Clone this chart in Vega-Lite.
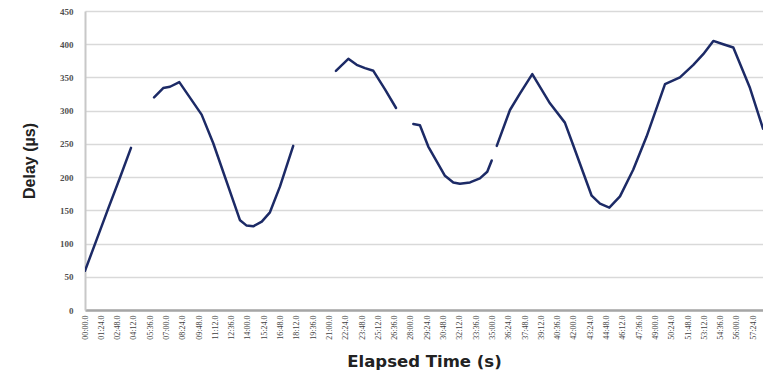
{
  "$schema": "https://vega.github.io/schema/vega-lite/v6.json",
  "autosize": "none",
  "width": 678,
  "height": 299,
  "padding": {"left": 85, "top": 11, "right": 0, "bottom": 65},
  "background": "white",
  "config": {"view": {"stroke": null}},
  "data": {"values": [
    {"t": 0, "delay": 59, "seg": 1},
    {"t": 60, "delay": 106, "seg": 1},
    {"t": 120, "delay": 153, "seg": 1},
    {"t": 180, "delay": 199, "seg": 1},
    {"t": 237, "delay": 244, "seg": 1},
    {"t": 356, "delay": 320, "seg": 2},
    {"t": 403, "delay": 334, "seg": 2},
    {"t": 438, "delay": 336, "seg": 2},
    {"t": 486, "delay": 343, "seg": 2},
    {"t": 601, "delay": 294, "seg": 2},
    {"t": 661, "delay": 251, "seg": 2},
    {"t": 799, "delay": 135, "seg": 2},
    {"t": 833, "delay": 127, "seg": 2},
    {"t": 867, "delay": 126, "seg": 2},
    {"t": 911, "delay": 133, "seg": 2},
    {"t": 953, "delay": 147, "seg": 2},
    {"t": 1005, "delay": 186, "seg": 2},
    {"t": 1073, "delay": 247, "seg": 2},
    {"t": 1293, "delay": 360, "seg": 3},
    {"t": 1357, "delay": 378, "seg": 3},
    {"t": 1400, "delay": 369, "seg": 3},
    {"t": 1443, "delay": 364, "seg": 3},
    {"t": 1486, "delay": 360, "seg": 3},
    {"t": 1546, "delay": 332, "seg": 3},
    {"t": 1603, "delay": 304, "seg": 3},
    {"t": 1692, "delay": 280, "seg": 4},
    {"t": 1726, "delay": 278, "seg": 4},
    {"t": 1769, "delay": 246, "seg": 4},
    {"t": 1855, "delay": 202, "seg": 4},
    {"t": 1898, "delay": 192, "seg": 4},
    {"t": 1932, "delay": 190, "seg": 4},
    {"t": 1984, "delay": 192, "seg": 4},
    {"t": 2035, "delay": 198, "seg": 4},
    {"t": 2073, "delay": 208, "seg": 4},
    {"t": 2096, "delay": 225, "seg": 4},
    {"t": 2122, "delay": 247, "seg": 5},
    {"t": 2190, "delay": 301, "seg": 5},
    {"t": 2242, "delay": 326, "seg": 5},
    {"t": 2305, "delay": 355, "seg": 5},
    {"t": 2396, "delay": 311, "seg": 5},
    {"t": 2473, "delay": 282, "seg": 5},
    {"t": 2516, "delay": 248, "seg": 5},
    {"t": 2611, "delay": 172, "seg": 5},
    {"t": 2654, "delay": 160, "seg": 5},
    {"t": 2702, "delay": 154, "seg": 5},
    {"t": 2757, "delay": 171, "seg": 5},
    {"t": 2825, "delay": 211, "seg": 5},
    {"t": 2894, "delay": 261, "seg": 5},
    {"t": 2989, "delay": 340, "seg": 5},
    {"t": 3066, "delay": 350, "seg": 5},
    {"t": 3135, "delay": 369, "seg": 5},
    {"t": 3186, "delay": 385, "seg": 5},
    {"t": 3238, "delay": 405, "seg": 5},
    {"t": 3289, "delay": 400, "seg": 5},
    {"t": 3341, "delay": 395, "seg": 5},
    {"t": 3427, "delay": 334, "seg": 5},
    {"t": 3494, "delay": 273, "seg": 5}
  ]},
  "mark": {"type": "line", "color": "#1c2a66", "strokeWidth": 2.5, "clip": true, "strokeCap": "round", "strokeJoin": "round"},
  "encoding": {
    "x": {
      "field": "t", "type": "quantitative",
      "scale": {"domain": [0, 3494], "nice": false, "zero": false},
      "axis": {
        "values": [0,84,168,252,336,420,504,588,672,756,840,924,1008,1092,1176,1260,1344,1428,1512,1596,1680,1764,1848,1932,2016,2100,2184,2268,2352,2436,2520,2604,2688,2772,2856,2940,3024,3108,3192,3276,3360,3444],
        "labelExpr": "format(floor(datum.value/60),'02d') + ':' + format(datum.value%60,'02d') + '.0'",
        "labelAngle": -90,
        "labelFont": "Liberation Serif",
        "labelFontSize": 8,
        "labelColor": "#404040",
        "labelPadding": 5,
        "labelOverlap": false,
        "labelFlush": false,
        "ticks": false,
        "grid": false,
        "domainColor": "#a6a6a6",
        "domainWidth": 2.5,
        "title": "Elapsed Time (s)",
        "titleFont": "DejaVu Sans",
        "titleFontWeight": "bold",
        "titleFontSize": 16.5,
        "titleColor": "#222222",
        "titlePadding": 14
      }
    },
    "y": {
      "field": "delay", "type": "quantitative",
      "scale": {"domain": [0, 450], "nice": false},
      "axis": {
        "values": [0,50,100,150,200,250,300,350,400,450],
        "labelFont": "Liberation Serif",
        "labelFontWeight": "bold",
        "labelFontSize": 9,
        "labelColor": "#505050",
        "labelPadding": 12,
        "ticks": false,
        "grid": true,
        "gridColor": "#d9d9d9",
        "gridWidth": 1.5,
        "domainColor": "#c8c8c8",
        "domainWidth": 2,
        "title": "Delay (µs)",
        "titleFont": "Liberation Sans",
        "titleFontWeight": "bold",
        "titleFontSize": 16,
        "titleColor": "#222222",
        "titlePadding": 22
      }
    },
    "detail": {"field": "seg", "type": "nominal"}
  }
}
